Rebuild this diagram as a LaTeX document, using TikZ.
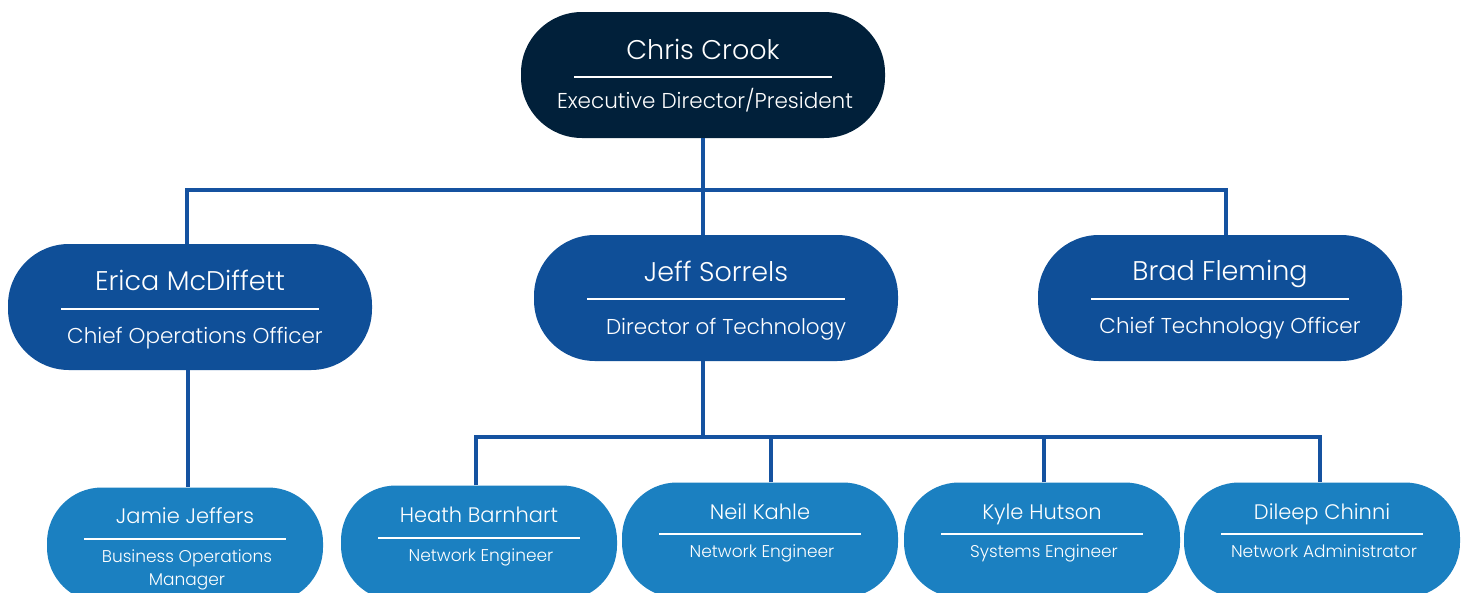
\documentclass[tikz,border=0pt]{standalone}
\usepackage{fontspec}
\setmainfont{Poppins}[UprightFont={* Light}]
\definecolor{navy}{HTML}{01203A}
\definecolor{midblue}{HTML}{0F4F98}
\definecolor{staffblue}{HTML}{1B80C1}
\definecolor{linkblue}{HTML}{1552A0}
\tikzset{
  personbox/.style={rectangle, draw=none, rounded corners=61pt, minimum width=364pt, minimum height=126pt},
  staffbox/.style={rectangle, draw=none, fill=staffblue, rounded corners=55pt, minimum width=276pt, minimum height=115pt},
  pname/.style={anchor=base, text=white, font=\fontsize{27}{30}\selectfont},
  ptitle/.style={anchor=base, text=white, align=center, font=\fontsize{21.5}{24}\selectfont},
  sname/.style={anchor=base, text=white, font=\fontsize{21}{25}\selectfont},
  stitle/.style={anchor=base, text=white, align=center, font=\fontsize{17}{23}\selectfont},
  hrule/.style={draw=white, line width=1.8pt},
  link/.style={draw=linkblue, line width=4pt}
}
\begin{document}
\begin{tikzpicture}[x=1pt,y=-1pt]
\clip (0,0) rectangle (1464,592);
\fill[white] (0,0) rectangle (1464,592);

% head
\node[personbox, fill=navy] (chris) at (703,75) {};
\node[pname] (chris-n) at (703,59) {Chris Crook};
\draw[hrule] ([xshift=-129pt,yshift=-2pt]chris.center) -- ++(258,0);
\node[ptitle] (chris-t) at (705,108) {Executive Director/President};

% directors
\node[personbox, fill=midblue] (erica) at (190,307) {};
\node[pname] (erica-n) at (190,290) {Erica McDiffett};
\draw[hrule] ([xshift=-129pt,yshift=-2pt]erica.center) -- ++(258,0);
\node[ptitle] (erica-t) at (195,343) {Chief Operations Officer};

\node[personbox, fill=midblue] (jeff) at (716,298) {};
\node[pname] (jeff-n) at (716,281) {Jeff Sorrels};
\draw[hrule] ([xshift=-129pt,yshift=-1pt]jeff.center) -- ++(258,0);
\node[ptitle] (jeff-t) at (726,334) {Director of Technology};

\node[personbox, fill=midblue] (brad) at (1220,298) {};
\node[pname] (brad-n) at (1220,280) {Brad Fleming};
\draw[hrule] ([xshift=-129pt,yshift=-1pt]brad.center) -- ++(258,0);
\node[ptitle] (brad-t) at (1230,333) {Chief Technology Officer};

% staff
\node[staffbox] (jamie) at (185,545) {};
\node[sname] (jamie-n) at (185,523) {Jamie Jeffers};
\draw[hrule] (jamie.center) ++(-101,-6) -- ++(202,0);
\node[stitle] (jamie-t) at (187,585) {Business Operations\\Manager};

\node[staffbox] (heath) at (479,543) {};
\node[sname] (heath-n) at (479,522) {Heath Barnhart};
\draw[hrule] (heath.center) ++(-101,-5) -- ++(202,0);
\node[stitle] (heath-t) at (481,561) {Network Engineer};

\node[staffbox] (neil) at (760,540) {};
\node[sname] (neil-n) at (760,519) {Neil Kahle};
\draw[hrule] (neil.center) ++(-101,-6) -- ++(202,0);
\node[stitle] (neil-t) at (762,557) {Network Engineer};

\node[staffbox] (kyle) at (1042,540) {};
\node[sname] (kyle-n) at (1042,519) {Kyle Hutson};
\draw[hrule] (kyle.center) ++(-101,-6) -- ++(202,0);
\node[stitle] (kyle-t) at (1044,557) {Systems Engineer};

\node[staffbox] (dileep) at (1322,540) {};
\node[sname] (dileep-n) at (1322,519) {Dileep Chinni};
\draw[hrule] (dileep.center) ++(-101,-6) -- ++(202,0);
\node[stitle] (dileep-t) at (1324,557) {Network Administrator};

% lines
\coordinate (bus1) at (703,190);
\coordinate (bus2) at (703,437);
\draw[link] (chris.south) -- (chris.south |- jeff.north);
\draw[link] ([xshift=-3pt]erica.north) |- (bus1) -| ([xshift=6pt]brad.north);
\draw[link] ([xshift=-2pt]erica.south) -- ([xshift=-2pt]erica.south |- jamie.north);
\draw[link] (jeff.south -| bus2) -- (bus2);
\draw[link] ([xshift=-3pt]heath.north) |- (bus2) -| ([xshift=-2pt]dileep.north);
\draw[link] ([xshift=11pt]neil.north) -- ([xshift=11pt]neil.north |- bus2);
\draw[link] ([xshift=2pt]kyle.north) -- ([xshift=2pt]kyle.north |- bus2);
\end{tikzpicture}
\end{document}
